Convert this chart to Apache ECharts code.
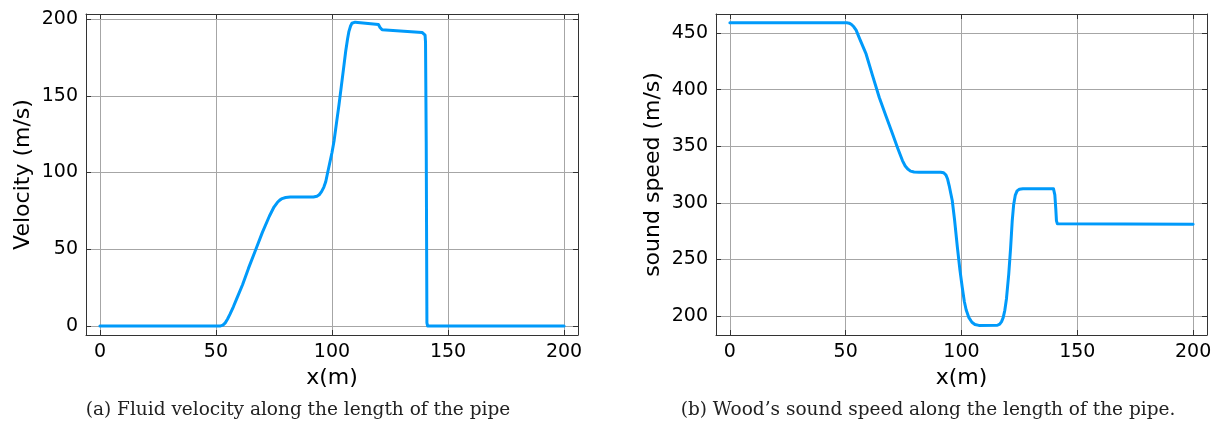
<!DOCTYPE html>
<html>
<head>
<meta charset="utf-8">
<script src="https://cdn.jsdelivr.net/npm/echarts@6/dist/echarts.min.js"></script>
<style>html,body{margin:0;padding:0;background:#fff;}#c{width:1221px;height:427px;}</style>
</head>
<body>
<div id="c"></div>
<script>
// ---- data ----
const xTicks = [0, 50, 100, 150, 200];
const velTicks = [0, 50, 100, 150, 200];
const sndTicks = [200, 250, 300, 350, 400, 450];

const velX = [0, 52, 53, 54, 55, 56, 57.5, 59, 61.5, 64, 67.2, 70, 73, 75, 76.5, 77.5, 78.5, 80, 82, 92, 93.5, 94.5, 95.5, 96.5, 97.3, 98, 99, 100, 100.9, 102, 103, 104, 105, 105.9, 106.7, 107.3, 108, 108.6, 109.3, 110, 120, 120.4, 120.7, 121.1, 121.6, 138.8, 139.6, 140.1, 140.3, 140.6, 140.9, 141.2, 200];
const vel  = [0, 0, 0.5, 2, 4.5, 7.5, 12.5, 18, 27, 37.5, 50, 61, 71.5, 77.5, 80.6, 82, 83, 83.7, 84, 84, 84.5, 85.5, 87.5, 90.5, 94, 99, 106, 113, 120.7, 133, 144, 156, 168, 179, 187, 192, 195.5, 197.3, 198, 198, 196.5, 196.2, 194.5, 193.2, 193, 191.3, 190.8, 189.5, 185, 120, 2, 0, 0];

const sndX = [0, 50.5, 51.5, 52.5, 53.5, 54.5, 56, 58.8, 61.5, 64.5, 67.5, 70.2, 72.5, 74.5, 75.7, 76.8, 78, 79.5, 81.7, 91, 92.3, 93.3, 94, 94.7, 95.4, 96, 97, 98.2, 99.3, 100.3, 101.2, 102, 103.2, 104.5, 105.8, 107.5, 115.5, 116.5, 117.3, 118, 118.7, 119.4, 120.4, 121.2, 121.9, 122.5, 123.2, 124, 125, 126.5, 139.7, 140, 140.3, 140.7, 141, 141.4, 142, 200];
const snd  = [459, 459, 458.7, 457.5, 455.5, 452.5, 445, 431.5, 413, 393, 376, 361, 348, 337.3, 332.5, 329.8, 328, 327.2, 327, 327, 326.5, 324.5, 321, 315, 308, 302, 285, 261, 241, 225.6, 213, 205.5, 198.5, 194.5, 192.5, 191.7, 191.8, 192.8, 195, 198.5, 205, 215, 237, 260, 284, 298, 306.5, 310.5, 312, 312.5, 312.5, 311.5, 307, 295, 284, 281.5, 281, 281];

const captionA = '(a) Fluid velocity along the length of the pipe';
const captionB = '(b) Wood\u2019s sound speed along the length of the pipe.';

// ---- chart ----
const FONT = 'DejaVu Sans';
const frame = {onZero: false, lineStyle: {color: '#333', width: 1}};
const grid = {color: '#a6a6a6', width: 1};

function xMain(gi) {
  return {
    type: 'value', gridIndex: gi, position: 'bottom', min: -6, max: 206,
    axisLine: frame,
    axisTick: {inside: true, length: 5, customValues: xTicks, lineStyle: {color: '#333'}},
    axisLabel: {customValues: xTicks, fontSize: 19, color: '#000', margin: 8, fontFamily: FONT},
    splitLine: {show: true, lineStyle: grid},
    name: 'x(m)', nameLocation: 'middle', nameGap: 31,
    nameTextStyle: {fontSize: 22, color: '#000', fontFamily: FONT}
  };
}
function xTop(gi) {
  return {
    type: 'value', gridIndex: gi, position: 'top', min: -6, max: 206,
    axisLine: frame,
    axisTick: {inside: true, length: 5, customValues: xTicks, lineStyle: {color: '#333'}},
    axisLabel: {show: false}, splitLine: {show: false}
  };
}
function yMain(gi, mn, mx, ticks, name, gap) {
  return {
    type: 'value', gridIndex: gi, position: 'left', min: mn, max: mx,
    axisLine: frame,
    axisTick: {inside: true, length: 5, customValues: ticks, lineStyle: {color: '#333'}},
    axisLabel: {customValues: ticks, fontSize: 19, color: '#000', margin: 8, fontFamily: FONT},
    splitLine: {show: true, lineStyle: grid},
    name: name, nameLocation: 'middle', nameGap: gap, nameRotate: 90,
    nameTextStyle: {fontSize: 22, color: '#000', fontFamily: FONT}
  };
}
function yRight(gi, mn, mx, ticks) {
  return {
    type: 'value', gridIndex: gi, position: 'right', min: mn, max: mx,
    axisLine: frame,
    axisTick: {inside: true, length: 5, customValues: ticks, lineStyle: {color: '#333'}},
    axisLabel: {show: false}, splitLine: {show: false}
  };
}

const zip = (xs, ys) => xs.map((x, i) => [x, ys[i]]);
const lineStyle = {color: '#009AFA', width: 3, join: 'round', cap: 'round'};

const option = {
  animation: false,
  backgroundColor: '#fff',
  grid: [
    {left: 86, top: 14, width: 492, height: 321},
    {left: 716, top: 14, width: 491, height: 321}
  ],
  xAxis: [xMain(0), xTop(0), xMain(1), xTop(1)],
  yAxis: [
    yMain(0, -5.9, 203.3, velTicks, 'Velocity (m/s)', 52),
    yRight(0, -5.9, 203.3, velTicks),
    yMain(1, 183.2, 466.8, sndTicks, 'sound speed (m/s)', 52),
    yRight(1, 183.2, 466.8, sndTicks)
  ],
  series: [
    {type: 'line', xAxisIndex: 0, yAxisIndex: 0, data: zip(velX, vel), showSymbol: false, lineStyle: lineStyle, itemStyle: {color: '#009AFA'}},
    {type: 'line', xAxisIndex: 2, yAxisIndex: 2, data: zip(sndX, snd), showSymbol: false, lineStyle: lineStyle, itemStyle: {color: '#009AFA'}}
  ],
  graphic: [
    {type: 'text', x: 298, y: 410, style: {text: captionA, font: '18.5px "DejaVu Serif"', fill: '#222', textAlign: 'center', textVerticalAlign: 'middle'}},
    {type: 'text', x: 928, y: 410, style: {text: captionB, font: '18.5px "DejaVu Serif"', fill: '#222', textAlign: 'center', textVerticalAlign: 'middle'}}
  ]
};

const chart = echarts.init(document.getElementById('c'), null, {renderer: 'canvas'});
chart.setOption(option);
</script>
</body>
</html>
